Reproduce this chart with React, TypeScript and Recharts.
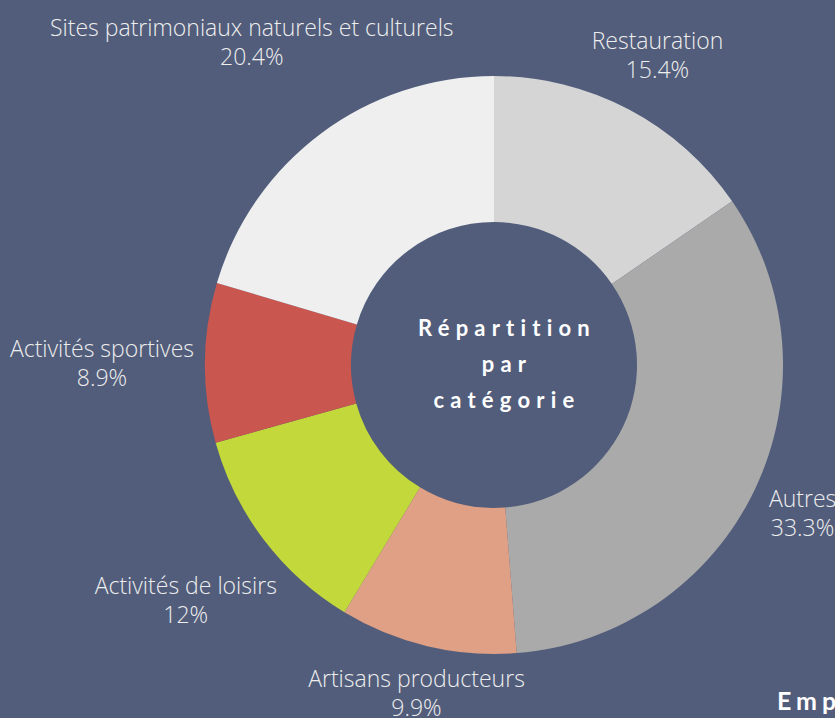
import { PieChart, Pie, Cell } from "recharts";

const categories = [
  "Restauration",
  "Autres",
  "Artisans producteurs",
  "Activités de loisirs",
  "Activités sportives",
  "Sites patrimoniaux naturels et culturels",
];
const shares = [15.4, 33.3, 9.9, 12, 8.9, 20.4];
const sliceColors = ["#d5d5d5", "#aaaaaa", "#e0a085", "#c3d83b", "#c9564f", "#efefef"];
const titleLines = ["Répartition", "par", "catégorie"];
const footerText = "Emplois";

const data = categories.map((name, i) => ({ name, value: shares[i] }));

const BG = "#525d7b";
const LABEL_FONT_SIZE = 23;
const LABEL_FONT = `300 ${LABEL_FONT_SIZE}px 'Open Sans'`;
const LABEL_GAP = 300; // distance from pie center to the nearest edge of a label box
const LINE = 29;
const BOX_H = 54;
const RAD = Math.PI / 180;

let ctx: CanvasRenderingContext2D | null = null;
function textWidth(s: string) {
  if (!ctx) ctx = document.createElement("canvas").getContext("2d");
  if (!ctx) return s.length * 10;
  ctx.font = LABEL_FONT;
  return ctx.measureText(s).width;
}

// distance from origin to a box centred on (x, y)
function boxDist(x: number, y: number, w: number, h: number) {
  const dx = Math.max(Math.abs(x) - w / 2, 0);
  const dy = Math.max(Math.abs(y) - h / 2, 0);
  return Math.hypot(dx, dy);
}

function renderLabel(props: any) {
  const { cx, cy, midAngle, name, value } = props;
  const pct = `${value}%`;
  const w = Math.max(textWidth(name), textWidth(pct));
  const ux = Math.cos(-midAngle * RAD);
  const uy = Math.sin(-midAngle * RAD);
  let lo = 0;
  let hi = 800;
  for (let k = 0; k < 40; k++) {
    const mid = (lo + hi) / 2;
    if (boxDist(mid * ux, mid * uy, w, BOX_H) < LABEL_GAP) lo = mid;
    else hi = mid;
  }
  const x = cx + lo * ux;
  const y = cy + lo * uy;
  return (
    <text
      x={x}
      textAnchor="middle"
      fill="#eeeeee"
      fontFamily="'Open Sans', sans-serif"
      fontWeight={300}
      fontSize={LABEL_FONT_SIZE}
    >
      <tspan x={x} y={y - 5}>
        {name}
      </tspan>
      <tspan x={x} y={y - 5 + LINE}>
        {pct}
      </tspan>
    </text>
  );
}

export default function App() {
  return (
    <div style={{ position: "relative", width: 835, height: 718, background: BG, overflow: "hidden" }}>
      <style>{`body{margin:0}`}</style>
      <PieChart width={835} height={718} margin={{ top: 0, right: 0, bottom: 0, left: 0 }}>
        <Pie
          data={data}
          dataKey="value"
          nameKey="name"
          cx={494}
          cy={365}
          innerRadius={143}
          outerRadius={289}
          startAngle={90}
          endAngle={-270}
          stroke="none"
          label={renderLabel}
          labelLine={false}
          isAnimationActive={false}
        >
          {data.map((_, i) => (
            <Cell key={i} fill={sliceColors[i]} />
          ))}
        </Pie>
      </PieChart>
      <svg
        width={835}
        height={718}
        style={{ position: "absolute", left: 0, top: 0, pointerEvents: "none" }}
      >
        <text
          textAnchor="middle"
          fill="#ffffff"
          fontFamily="Lato, sans-serif"
          fontWeight={700}
          fontSize={22}
          letterSpacing={6.2}
        >
          {titleLines.map((t, i) => (
            <tspan key={t} x={507} y={336 + i * 36}>
              {t}
            </tspan>
          ))}
        </text>
        <text
          x={777}
          y={710}
          fill="#ffffff"
          fontFamily="Lato, sans-serif"
          fontWeight={700}
          fontSize={25}
          letterSpacing={5}
        >
          {footerText}
        </text>
      </svg>
    </div>
  );
}
